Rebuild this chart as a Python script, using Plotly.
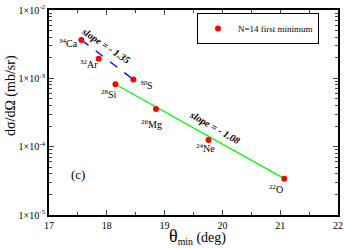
import math
import plotly.graph_objects as go

nuclei = ["<sup>34</sup>Ca", "<sup>32</sup>Ar", "<sup>30</sup>S", "<sup>28</sup>Si",
          "<sup>26</sup>Mg", "<sup>24</sup>Ne", "<sup>22</sup>O"]
theta_min = [17.56, 17.86, 18.46, 18.15, 18.85, 19.76, 21.07]
dsigma = [3.65e-3, 1.93e-3, 9.6e-4, 8.2e-4, 3.55e-4, 1.25e-4, 3.4e-5]
label_dx = [-13, -10, 13, -6, -4, -3, -8]
label_dy = [-3, -5, -5, -10, -15, -8, -10]

blue_idx = [0, 2]
green_idx = [3, 6]

x_ticks = [17, 18, 19, 20, 21, 22]
y_ticks = [1e-5, 1e-4, 1e-3, 1e-2]
y_ticktext = ["1×10<sup>-5</sup>", "1×10<sup>-4</sup>", "1×10<sup>-3</sup>", "1×10<sup>-2</sup>"]

FONT = "Liberation Serif"
L, R, T, B = 49, 338, 10, 215
W, H = R - L, B - T


def px(x):
    return (x - L) / W


def py(y):
    return (B - y) / H


fig = go.Figure()
fig.add_trace(go.Scatter(x=[theta_min[i] for i in blue_idx], y=[dsigma[i] for i in blue_idx],
                         mode="lines", line=dict(color="#0000ff", width=1.3, dash="dash"),
                         showlegend=False))
fig.add_trace(go.Scatter(x=[theta_min[i] for i in green_idx], y=[dsigma[i] for i in green_idx],
                         mode="lines", line=dict(color="#00ff00", width=1.3),
                         showlegend=False))
fig.add_trace(go.Scatter(x=theta_min, y=dsigma, mode="markers",
                         marker=dict(color="#ff0000", size=6),
                         name="N=14 first minimum"))

for n, x, y, dx, dy in zip(nuclei, theta_min, dsigma, label_dx, label_dy):
    fig.add_annotation(x=x, y=math.log10(y), text=n, showarrow=False,
                       xanchor="center", yanchor="middle",
                       xshift=dx, yshift=dy, font=dict(family=FONT, size=10, color="black"))


def paper_text(x, y, text, size, angle=0):
    fig.add_annotation(xref="paper", yref="paper", x=px(x), y=py(y), text=text,
                       showarrow=False, textangle=angle, xanchor="center", yanchor="middle",
                       font=dict(family=FONT, size=size, color="black"))


paper_text(106, 45, "<b><i>slope = - 1.35</i></b>", 10, 34)
paper_text(215, 127, "<b><i>slope = - 1.08</i></b>", 10, 30)
paper_text(78, 174, "(c)", 13)
paper_text(197, 236, "<span style='font-size:18px'>θ</span><sub>min</sub> (deg)", 14)
paper_text(11, 96, "dσ/dΩ (mb/sr)", 14, -90)

fig.update_layout(
    width=344, height=248,
    margin=dict(l=L, r=344 - R, t=T, b=248 - B, autoexpand=False),
    plot_bgcolor="white", paper_bgcolor="white",
    font=dict(family=FONT, size=10, color="black"),
    showlegend=True,
    legend=dict(x=px(197), y=py(13), xanchor="left", yanchor="top",
                bordercolor="black", borderwidth=1, bgcolor="white",
                font=dict(family=FONT, size=9), itemwidth=30,
                tracegroupgap=0),
)
fig.update_xaxes(range=[17, 22], tickvals=x_ticks, ticks="inside", ticklen=5, tickwidth=1,
                 showline=True, linecolor="black", linewidth=2, mirror="allticks",
                 showgrid=False, zeroline=False, automargin=False,
                 minor=dict(ticks="inside", ticklen=3, dtick=0.5, showgrid=False))
fig.update_yaxes(type="log", range=[-5, -2], tickvals=y_ticks, ticktext=y_ticktext,
                 ticks="inside", ticklen=5, tickwidth=1,
                 showline=True, linecolor="black", linewidth=2, mirror="allticks",
                 showgrid=False, zeroline=False, automargin=False,
                 minor=dict(ticks="inside", ticklen=3, dtick="D1", showgrid=False))

fig.write_html("out.html", config={"displayModeBar": False},
               post_script="document.body.style.margin='0';document.body.style.overflow='hidden';")
